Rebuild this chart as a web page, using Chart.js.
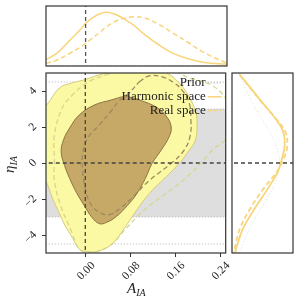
<!DOCTYPE html>
<html>
<head>
<meta charset="utf-8">
<script src="https://cdn.jsdelivr.net/npm/chart.js@4.4.1/dist/chart.umd.min.js"></script>
<style>
  body { margin: 0; width: 300px; height: 304px; position: relative; background: #fff; overflow: hidden; font-family: "Liberation Serif", serif; }
  canvas { position: absolute; }
  .title { position: absolute; font-style: italic; color: #222; font-size: 15px; line-height: 1; white-space: nowrap; }
  .title sub { font-size: 10px; vertical-align: -3px; }
</style>
</head>
<body>
<canvas id="mainChart" width="232" height="304" style="left:0;top:0"></canvas>
<canvas id="topChart" width="232" height="73" style="left:0;top:0"></canvas>
<canvas id="rightChart" width="72" height="200" style="left:228px;top:60px"></canvas>
<div class="title" id="xTitle" style="left:127px;top:281px">A<sub>IA</sub></div>
<div class="title" id="yTitle" style="left:2px;top:156px;transform:rotate(-90deg)">η<sub>IA</sub></div>
<script>
// axis ticks
const aTicks = [0, 0.08, 0.16, 0.24];
const aTickLabels = ["0.00", "0.08", "0.16", "0.24"];
const etaTicks = [-4, -2, 0, 2, 4];
const etaTickLabels = ["\u22124", "\u22122", "0", "2", "4"];

// 2D contours, [A_IA, eta_IA]
const harmonicOuter = [
  [0.055, 5.12], [0.114, 5.18], [0.144, 5.01], [0.167, 4.45], [0.185, 3.67], [0.197, 2.78],
  [0.199, 2.0], [0.196, 1.27], [0.185, 0.71], [0.164, -0.13], [0.137, -0.97], [0.114, -1.69],
  [0.091, -2.64], [0.069, -3.65], [0.048, -4.49], [0.025, -4.88], [0.004, -4.93], [-0.011, -4.77],
  [-0.023, -4.15], [-0.036, -3.48], [-0.046, -2.81], [-0.059, -1.91], [-0.069, -1.08], [-0.082, -0.41],
  [-0.082, 2.94], [-0.069, 3.22], [-0.046, 4.17], [-0.023, 4.45], [-0.002, 4.62], [0.025, 4.9],
  [0.055, 5.12]
];
const harmonicInner = [
  [0.064, 3.67], [0.078, 3.67], [0.101, 3.45], [0.126, 3.11], [0.144, 2.61], [0.153, 2.0],
  [0.149, 1.44], [0.135, 0.71], [0.119, -0.02], [0.107, -0.85], [0.092, -1.69], [0.075, -2.36],
  [0.055, -2.98], [0.037, -3.31], [0.025, -3.37], [0.012, -3.03], [-0.002, -2.36], [-0.016, -1.63],
  [-0.028, -0.85], [-0.037, -0.13], [-0.043, 0.6], [-0.039, 1.27], [-0.028, 1.94], [-0.011, 2.66],
  [0.016, 3.22], [0.046, 3.5], [0.064, 3.67]
];
const realOuter = [
  [0.037, 4.9], [0.078, 5.29], [0.132, 5.4], [0.185, 4.73], [0.226, 4.3], [0.252, 3.5],
  [0.265, 2.39], [0.252, 1.38], [0.226, 0.71], [0.206, -0.02], [0.18, -0.8], [0.144, -1.69],
  [0.114, -2.36], [0.091, -3.03], [0.069, -3.76], [0.048, -4.49], [0.025, -4.88], [0.007, -4.99],
  [-0.011, -4.77], [-0.025, -3.76], [-0.044, -2.36], [-0.055, -0.97], [-0.055, 0.15], [-0.055, 1.55],
  [-0.041, 3.06], [-0.023, 3.78], [-0.005, 4.28], [0.012, 4.62], [0.037, 4.9]
];
const realInner = [
  [0.096, 4.51], [0.114, 4.84], [0.137, 4.79], [0.158, 4.45], [0.172, 4.06], [0.185, 3.34],
  [0.188, 2.39], [0.187, 1.55], [0.176, 0.71], [0.153, -0.02], [0.114, -0.97], [0.084, -1.91],
  [0.064, -2.47], [0.043, -2.87], [0.025, -2.75], [0.009, -2.25], [0.0, -1.41], [-0.005, -0.41],
  [-0.005, 0.43], [0.004, 1.38], [0.025, 2.11], [0.046, 2.89], [0.06, 3.45], [0.078, 3.9],
  [0.096, 4.51]
];

// prior band and prior lines on eta_IA
const priorBand = [-3, 3];
const priorLines = [-4.5, -3, 3, 4.5];

// fiducial values
const fiducialA = 0;
const fiducialEta = 0;

// 1D marginal of A_IA
const margA = [-0.07, -0.05, -0.03, -0.01, 0.0, 0.01, 0.025, 0.037, 0.05, 0.065, 0.085, 0.105, 0.13, 0.155, 0.18, 0.21, 0.25];
const margAHarmonic = [0.105, 0.22, 0.41, 0.6, 0.71, 0.79, 0.87, 0.895, 0.87, 0.8, 0.68, 0.52, 0.35, 0.21, 0.125, 0.06, 0.03];
const margAReal = [0.043, 0.1, 0.2, 0.31, 0.378, 0.45, 0.56, 0.655, 0.73, 0.79, 0.82, 0.8, 0.69, 0.545, 0.4, 0.22, 0.045];

// 1D marginal of eta_IA
const margEta = [4.92, 3.45, 2.5, 1.77, 1.0, 0.26, -0.46, -1.41, -2.53, -3.65, -4.77, -5.0];
const margEtaHarmonic = [0.126, 0.475, 0.705, 0.836, 0.864, 0.82, 0.754, 0.59, 0.372, 0.18, 0.066, 0.055];
const margEtaReal = [0.12, 0.47, 0.71, 0.87, 0.907, 0.85, 0.74, 0.52, 0.3, 0.13, 0.044, 0.035];
const priorEta = [5, 4, 3, 2, 1, 0, -1, -2, -3, -4, -5];
const priorEtaValues = [0.12, 0.24, 0.39, 0.57, 0.72, 0.78, 0.72, 0.57, 0.39, 0.24, 0.12];

const MARG_COLOR = "#f8d57a";
const SERIF = "'Liberation Serif', 'DejaVu Serif', serif";

function pts(pairs) {
  return pairs.map((p) => ({ x: p[0], y: p[1] }));
}

function zip(xs, ys) {
  return xs.map((x, i) => ({ x: x, y: ys[i] }));
}

function line(data, color, width, dash, order, extra) {
  return Object.assign({
    data: data,
    borderColor: color,
    borderWidth: width,
    borderDash: dash,
    pointRadius: 0,
    fill: false,
    order: order,
  }, extra || {});
}

const framePlugin = {
  id: "frame",
  afterDraw(chart) {
    const a = chart.chartArea;
    const ctx = chart.ctx;
    ctx.save();
    ctx.strokeStyle = "#333";
    ctx.lineWidth = 1.2;
    ctx.strokeRect(a.left, a.top, a.right - a.left, a.bottom - a.top);
    ctx.restore();
  },
};

const legendPlugin = {
  id: "cornerLegend",
  afterDraw(chart) {
    const a = chart.chartArea;
    const ctx = chart.ctx;
    const items = [
      { text: "Prior", color: "#aaaaaa", width: 1, dash: [1, 2] },
      { text: "Harmonic space", color: MARG_COLOR, width: 1.5, dash: [] },
      { text: "Real space", color: MARG_COLOR, width: 1.5, dash: [4, 2] },
    ];
    ctx.save();
    ctx.font = "13px " + SERIF;
    ctx.textAlign = "right";
    ctx.textBaseline = "middle";
    items.forEach((item, i) => {
      const y = a.top + 10 + i * 13.8;
      ctx.fillStyle = "#222";
      ctx.fillText(item.text, a.right - 20, y);
      ctx.beginPath();
      ctx.strokeStyle = item.color;
      ctx.lineWidth = item.width;
      ctx.setLineDash(item.dash);
      ctx.moveTo(a.right - 18, y);
      ctx.lineTo(a.right - 4, y);
      ctx.stroke();
    });
    ctx.restore();
  },
};

function fixedTicks(values) {
  return (scale) => {
    scale.ticks = values.map((v) => ({ value: v }));
  };
}

function createMainChart() {
  const ctx = document.getElementById("mainChart").getContext("2d");
  const datasets = [];

  datasets.push(line(pts([[-1, priorBand[0]], [1, priorBand[0]], [1, priorBand[1]], [-1, priorBand[1]], [-1, priorBand[0]]]),
    "rgba(0,0,0,0)", 0, [], 20, { fill: "shape", backgroundColor: "#dedede" }));
  priorLines.forEach((v) => {
    datasets.push(line(pts([[-1, v], [1, v]]), "#b0b0b0", 1, [1, 2], 19));
  });
  datasets.push(line(pts(harmonicOuter), "#d3ca7c", 1, [], 18,
    { fill: "shape", backgroundColor: "#fcf9a4", tension: 0.4 }));
  datasets.push(line(pts(harmonicInner), "#8c7443", 1, [], 17,
    { fill: "shape", backgroundColor: "#c6a967", tension: 0.4 }));
  datasets.push(line(pts(realOuter), "#d6d68e", 1.3, [5, 3], 16, { tension: 0.4 }));
  datasets.push(line(pts(realInner), "#9c8a5e", 1.3, [5, 3], 15, { tension: 0.4 }));
  datasets.push(line(pts([[fiducialA, -6], [fiducialA, 6]]), "#444", 1.3, [4, 3], 2));
  datasets.push(line(pts([[-1, fiducialEta], [1, fiducialEta]]), "#444", 1.3, [4, 3], 1));

  new Chart(ctx, {
    type: "line",
    data: { datasets: datasets },
    plugins: [framePlugin, legendPlugin],
    options: {
      responsive: false,
      animation: false,
      layout: { padding: { top: 73, right: 5, left: 0, bottom: 0 } },
      plugins: { legend: { display: false }, tooltip: { enabled: false } },
      scales: {
        x: {
          type: "linear",
          min: -0.07,
          max: 0.25,
          afterBuildTicks: fixedTicks(aTicks),
          afterFit: (scale) => { scale.height = 51; },
          grid: { drawOnChartArea: false, drawTicks: true, tickLength: 4, color: "#333" },
          border: { display: false },
          ticks: {
            minRotation: 45,
            maxRotation: 45,
            labelOffset: 8,
            padding: 2,
            color: "#222",
            font: { family: SERIF, size: 11.5 },
            callback: (v) => aTickLabels[aTicks.indexOf(v)],
          },
        },
        y: {
          type: "linear",
          min: -5,
          max: 5,
          afterBuildTicks: fixedTicks(etaTicks),
          afterFit: (scale) => { scale.width = 46; },
          grid: { drawOnChartArea: false, drawTicks: true, tickLength: 4, color: "#333" },
          border: { display: false },
          ticks: {
            minRotation: 45,
            maxRotation: 45,
            padding: 7,
            labelOffset: -2,
            color: "#222",
            font: { family: SERIF, size: 11.5 },
            callback: (v) => etaTickLabels[etaTicks.indexOf(v)],
          },
        },
      },
    },
  });
}

function createTopChart() {
  const ctx = document.getElementById("topChart").getContext("2d");
  new Chart(ctx, {
    type: "line",
    data: {
      datasets: [
        line(zip(margA, margAHarmonic), MARG_COLOR, 1.5, [], 2, { tension: 0.4 }),
        line(zip(margA, margAReal), MARG_COLOR, 1.5, [5, 3], 3, { tension: 0.4 }),
        line(pts([[-1, 0.008], [1, 0.008]]), "#cccccc", 1, [1, 2], 4),
        line(pts([[fiducialA, -1], [fiducialA, 2]]), "#555", 1.3, [4, 3], 1),
      ],
    },
    plugins: [framePlugin],
    options: {
      responsive: false,
      animation: false,
      layout: { padding: { top: 6, right: 5, left: 46, bottom: 7 } },
      plugins: { legend: { display: false }, tooltip: { enabled: false } },
      scales: {
        x: { type: "linear", min: -0.07, max: 0.25, display: false },
        y: { type: "linear", min: 0, max: 1, display: false },
      },
    },
  });
}

function createRightChart() {
  const ctx = document.getElementById("rightChart").getContext("2d");
  new Chart(ctx, {
    type: "line",
    data: {
      datasets: [
        line(zip(margEtaHarmonic, margEta), MARG_COLOR, 1.8, [], 2, { tension: 0.4 }),
        line(zip(margEtaReal, margEta), MARG_COLOR, 1.8, [5, 3], 3, { tension: 0.4 }),
        line(zip(priorEtaValues, priorEta), "#dddddd", 1, [1, 2], 4, { tension: 0.4 }),
        line(pts([[-1, fiducialEta], [2, fiducialEta]]), "#444", 1.3, [4, 3], 1),
      ],
    },
    plugins: [framePlugin],
    options: {
      responsive: false,
      animation: false,
      layout: { padding: { top: 13, right: 7, left: 4, bottom: 7 } },
      plugins: { legend: { display: false }, tooltip: { enabled: false } },
      scales: {
        x: { type: "linear", min: 0, max: 1, display: false },
        y: { type: "linear", min: -5, max: 5, display: false },
      },
    },
  });
}

createMainChart();
createTopChart();
createRightChart();
</script>
</body>
</html>
